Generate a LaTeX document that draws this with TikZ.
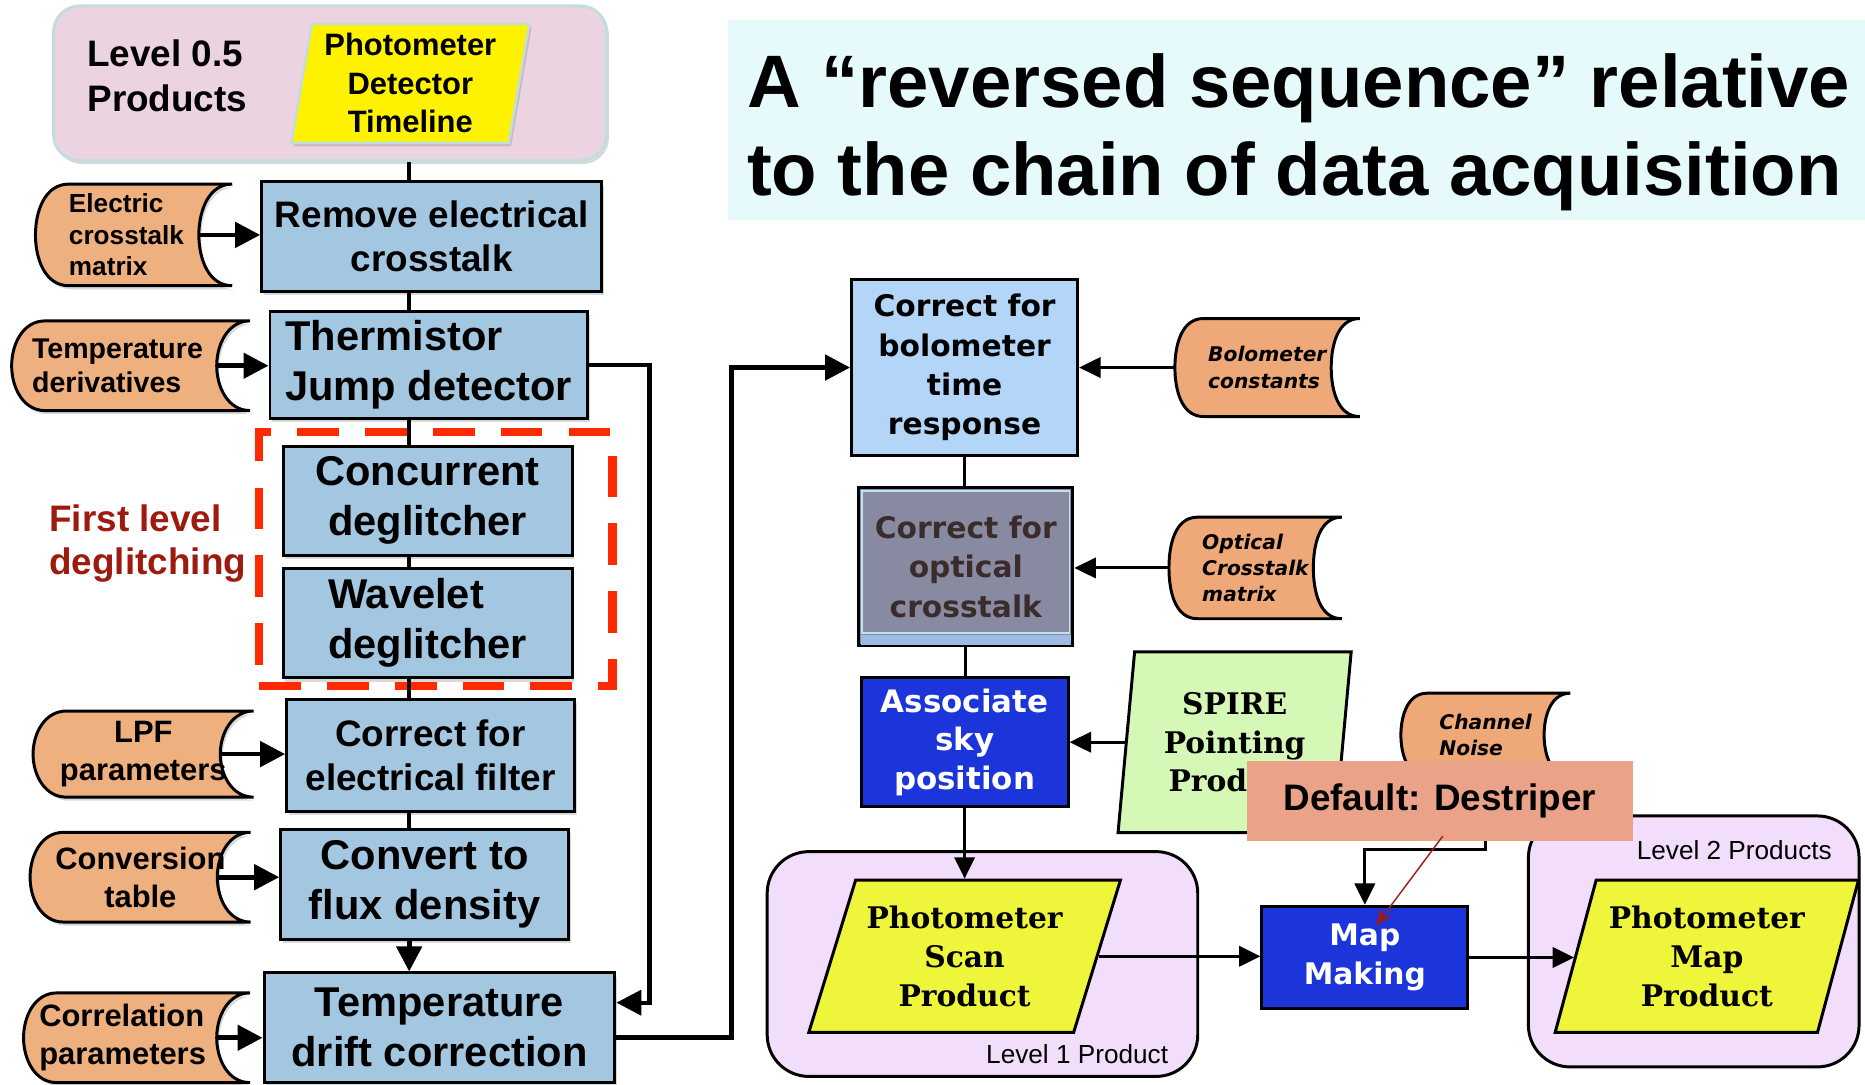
\documentclass[tikz,border=0pt]{standalone}
\usepackage{fontspec}
\setmainfont{Liberation Sans}
\newfontfamily\dvsans{DejaVu Sans}
\newfontfamily\dvserif{DejaVu Serif}
\usetikzlibrary{arrows.meta, positioning, calc, shapes.geometric, shadows, backgrounds}

\newcommand\fsz[2]{\fontsize{#1}{#2}\selectfont}

\definecolor{pinkLvl}{HTML}{EBD3E2}
\definecolor{pinkEdge}{HTML}{C3DCDF}
\definecolor{procBlue}{HTML}{A4C7E1}
\definecolor{storeOrange}{HTML}{EFB07F}
\definecolor{storeSalmon}{HTML}{EFA877}
\definecolor{boloBlue}{HTML}{B3D5F7}
\definecolor{optGray}{HTML}{878AA0}
\definecolor{optText}{HTML}{3B2C2C}
\definecolor{optEdge}{HTML}{BFE3EE}
\definecolor{stripBlue}{HTML}{9DBBE3}
\definecolor{deepBlue}{HTML}{1B35DA}
\definecolor{pointGreen}{HTML}{D6F8B6}
\definecolor{prodYellow}{HTML}{EEF53B}
\definecolor{groupLilac}{HTML}{F2DDFA}
\definecolor{noteSalmon}{HTML}{EAA388}
\definecolor{titleCyan}{HTML}{E6FAFC}
\definecolor{dashRed}{HTML}{FF2A00}
\definecolor{deglitchRed}{HTML}{9E1A0E}
\definecolor{pointerRed}{HTML}{9B1C1C}

\begin{document}
\begin{tikzpicture}[
x=1pt, y=-1pt,
softshadow/.style={drop shadow={shadow xshift=2pt, shadow yshift=-3pt, opacity=.3}},
leftbox/.style={
rectangle, draw=black, line width=2.5pt,
fill=procBlue, inner sep=4pt, align=center,
font=\bfseries\fsz{31}{37}, softshadow
},
bigtext/.style={font=\bfseries\fsz{35}{42}},
storenode/.style={
rectangle, inner sep=0pt, align=left,
font=\bfseries\fsz{22}{26.5}
},
storeshape/.style={fill=storeOrange, draw=black, line width=2.5pt},
rightbox/.style={
rectangle, draw=black, line width=2.5pt,
inner sep=3pt, align=center,
font=\dvsans\bfseries\fsz{25}{33}
},
product/.style={
trapezium, trapezium stretches body,
draw=black, line width=2.5pt, fill=prodYellow,
inner sep=2pt, align=center,
font=\dvserif\bfseries\fsz{25}{32.5}
},
groupbox/.style={rectangle, rounded corners=35pt, draw=black, line width=2.5pt, fill=groupLilac},
grouplabel/.style={font=\fsz{22}{26}, inner sep=0pt},
arrowL/.style={-{Triangle[length=21pt, width=21pt]}, line width=4pt},
linkL/.style={line width=3.5pt},
arrowR/.style={-{Triangle[length=18pt, width=17pt]}, line width=2.5pt},
linkR/.style={line width=2.5pt}
]

\useasboundingbox (0,0) rectangle (1568,912);

\node[rectangle, rounded corners=22pt, draw=pinkEdge, line width=2.5pt, fill=pinkLvl,
minimum width=465pt, minimum height=130pt, softshadow] (lvlHalf) at (277.5,70) {};
\node[anchor=west, align=left, font=\bfseries\fsz{31}{38}] (lvlHalfText) at (70,64) {Level 0.5\\Products};
\node[trapezium, trapezium stretches body, trapezium left angle=78.7, trapezium right angle=101.3,
minimum width=200pt, minimum height=100pt, fill=yellow, draw=pinkEdge, line width=2pt,
align=center, inner sep=1pt, font=\bfseries\fsz{26}{32.5}, softshadow] (detTimeline) at (345,70)
{Photometer\\Detector\\Timeline};

\coordinate (spine) at (344,0);

\node[leftbox, minimum width=286pt, minimum height=92pt] (removeXtalk) at (363,199)
{Remove electrical\\crosstalk};
\node[leftbox, bigtext, align=left, minimum width=267pt, minimum height=90pt] (jumpDetect) at (360.5,307)
{Thermistor\\Jump detector};
\node[leftbox, bigtext, minimum width=243pt, minimum height=92pt] (concDeglitch) at (359.5,421)
{Concurrent\\deglitcher};
\node[leftbox, bigtext, align=left, minimum width=243pt, minimum height=92pt] (waveDeglitch) at (359.5,524)
{Wavelet\\deglitcher};
\node[leftbox, minimum width=242pt, minimum height=94pt] (elecFilter) at (362,635)
{Correct for\\electrical filter};
\node[leftbox, bigtext, minimum width=242pt, minimum height=93pt] (fluxConvert) at (357,743.5)
{Convert to\\flux density};
\node[leftbox, bigtext, minimum width=295pt, minimum height=92pt] (tempDrift) at (369.5,864)
{Temperature\\drift correction};

\node[storenode, text width=109pt, minimum width=165pt, minimum height=85pt] (xtalkMatrix) at (112.5,197.5)
{Electric\\crosstalk\\matrix};
\node[storenode, text width=166pt, font=\bfseries\fsz{24}{29}, minimum width=200pt, minimum height=75pt] (tempDeriv) at (110,307.5)
{Temperature\\derivatives};
\node[storenode, font=\bfseries\fsz{26}{32}, align=center, minimum width=185pt, minimum height=72pt] (lpfParams) at (120.5,634)
{LPF\\parameters};
\node[storenode, font=\bfseries\fsz{26}{32}, align=center, minimum width=185pt, minimum height=75pt] (convTable) at (118,737.5)
{Conversion\\table};
\node[storenode, text width=164pt, font=\bfseries\fsz{26}{32}, minimum width=190pt, minimum height=75pt] (corrParams) at (115,872.5)
{Correlation\\parameters};

\node[draw=dashRed, line width=7pt, dash pattern=on 35pt off 22pt,
minimum width=297pt, minimum height=214pt] (deglitchFrame) at (366.5,470) {};
\node[anchor=west, align=left, text=deglitchRed, font=\bfseries\fsz{31}{36}] (deglitchLabel) at (38,457)
{First level\\deglitching};

\node[fill=titleCyan, minimum width=956pt, minimum height=168pt, inner sep=0pt] (titleBack) at (1090,101) {};
\node[anchor=west, inner sep=0pt, align=left, font=\bfseries\fsz{62.5}{74}] (title) at (628,111)
{A “reversed sequence” relative\\to the chain of data acquisition};

\node[rightbox, fill=boloBlue, minimum width=190pt, minimum height=148pt] (boloResp) at (811,309)
{Correct for\\bolometer\\time\\response};
\node[rightbox, fill=optGray, text=optText, minimum width=180pt, minimum height=133pt] (optXtalk) at (812,476.5)
{Correct for\\optical\\crosstalk};
\draw[optEdge, line width=1.2pt] ([shift={(4,4)}]optXtalk.north west) rectangle ([shift={(-4,-12)}]optXtalk.south east);
\fill[stripBlue] ([shift={(3,-10)}]optXtalk.south west) rectangle ([shift={(-3,-2)}]optXtalk.south east);
\node[rightbox, fill=deepBlue, text=white, font=\dvsans\bfseries\fsz{26}{32.5},
minimum width=174pt, minimum height=108pt] (skyPos) at (811,624)
{Associate\\sky\\position};

\node[storenode, font=\dvsans\bfseries\itshape\fsz{17}{22}, minimum width=155pt, minimum height=82pt] (boloConst) at (1065.5,309)
{Bolometer\\constants};
\node[storenode, font=\dvsans\bfseries\itshape\fsz{17}{21.5}, minimum width=145pt, minimum height=85pt] (optMatrix) at (1055.5,477.5)
{Optical\\Crosstalk\\matrix};
\node[storenode, font=\dvsans\bfseries\itshape\fsz{17}{22}, minimum width=142pt, minimum height=70pt] (chanNoise) at (1249,618)
{Channel\\Noise};

\node[product, fill=pointGreen, trapezium left angle=81, trapezium right angle=99,
minimum width=196pt, minimum height=152pt] (pointProd) at (1038,624)
{SPIRE\\Pointing\\Prod\phantom{uct}};

\node[groupbox, minimum width=362pt, minimum height=189pt] (levelOne) at (826,810.5) {};
\node[groupbox, minimum width=278pt, minimum height=211pt] (levelTwo) at (1424,791.5) {};
\node[grouplabel, anchor=south east] (levelOneText) at ([shift={(-26,-12)}]levelOne.south east) {Level 1 Product};
\node[grouplabel, anchor=north east] (levelTwoText) at ([shift={(-24,22)}]levelTwo.north east) {Level 2 Products};

\node[product, trapezium left angle=66, trapezium right angle=114,
minimum width=262pt, minimum height=128pt] (scanProd) at (811,804)
{Photometer\\Scan\\Product};
\node[product, trapezium left angle=68.7, trapezium right angle=111.3,
minimum width=255pt, minimum height=128pt] (mapProd) at (1435,804)
{Photometer\\Map\\Product};
\node[rightbox, fill=deepBlue, text=white, minimum width=173pt, minimum height=86pt] (mapMaking) at (1147.5,805)
{Map\\Making};

\begin{pgfonlayer}{background}
\foreach \n/\cv in {xtalkMatrix/28, tempDeriv/28, lpfParams/28, convTable/28, corrParams/28}
\filldraw[storeshape, softshadow] ([xshift=\cv pt]\n.north west) to[out=180,in=90] (\n.west)
to[out=-90,in=180] ([xshift=\cv pt]\n.south west) -- (\n.south east)
to[out=180,in=-90] ([xshift=-\cv pt]\n.east) to[out=90,in=180] (\n.north east) -- cycle;
\foreach \n/\cv in {boloConst/24, optMatrix/24, chanNoise/22}
\filldraw[storeshape, fill=storeSalmon] ([xshift=\cv pt]\n.north west) to[out=180,in=90] (\n.west)
to[out=-90,in=180] ([xshift=\cv pt]\n.south west) -- (\n.south east)
to[out=180,in=-90] ([xshift=-\cv pt]\n.east) to[out=90,in=180] (\n.north east) -- cycle;
\end{pgfonlayer}

\draw[linkL] (spine |- lvlHalf.south) -- (spine |- removeXtalk.north);
\draw[linkL] (spine |- removeXtalk.south) -- (spine |- jumpDetect.north);
\draw[linkL] (spine |- jumpDetect.south) -- (spine |- concDeglitch.north);
\draw[linkL] (spine |- concDeglitch.south) -- (spine |- waveDeglitch.north);
\draw[linkL] (spine |- waveDeglitch.south) -- (spine |- elecFilter.north);
\draw[linkL] (spine |- elecFilter.south) -- (spine |- fluxConvert.north);
\draw[arrowL] (spine |- fluxConvert.south) -- (spine |- tempDrift.north);

\draw[arrowL] ([xshift=-28pt]xtalkMatrix.east) -- (xtalkMatrix.east -| removeXtalk.west);
\draw[arrowL] ([xshift=-28pt]tempDeriv.east) -- (tempDeriv.east -| jumpDetect.west);
\draw[arrowL] ([xshift=-28pt]lpfParams.east) -- (lpfParams.east -| elecFilter.west);
\draw[arrowL] ([xshift=-28pt]convTable.east) -- (convTable.east -| fluxConvert.west);
\draw[arrowL] ([xshift=-28pt]corrParams.east) -- (corrParams.east -| tempDrift.west);

\coordinate (jumpBus) at (546,843);
\draw[arrowL, line width=3.5pt] (jumpDetect.east) -| (jumpBus) -- (jumpBus -| tempDrift.east);
\coordinate (driftBus) at (615,872);
\draw[arrowL] (driftBus -| tempDrift.east) -- (driftBus) |- (boloResp.west);

\draw[arrowR] (boloConst.west) -- (boloConst.west -| boloResp.east);
\draw[linkR] (boloResp.south) -- (boloResp.south |- optXtalk.north);
\draw[arrowR] (optMatrix.west) -- (optMatrix.west -| optXtalk.east);
\draw[linkR] (optXtalk.south) -- (optXtalk.south |- skyPos.north);
\draw[arrowR] (pointProd.west) -- (pointProd.west -| skyPos.east);
\draw[arrowR] (skyPos.south) -- (skyPos.south |- scanProd.north);
\draw[arrowR] (scanProd.east) -- (scanProd.east -| mapMaking.west);
\draw[arrowR] (mapMaking.east) -- (mapMaking.east -| mapProd.west);
\draw[arrowR] (chanNoise.south) -- ++(0,61) -| (mapMaking.north);

\node[fill=noteSalmon, minimum width=325pt, minimum height=67pt, font=\bfseries\fsz{31}{37}] (destriper) at (1210.5,673.5)
{Default: Destriper};
\draw[pointerRed, line width=1.2pt, -{Stealth[length=14pt, width=12pt]}]
([shift={(2.5,29.5)}]destriper.center) -- ([shift={(9.5,-27)}]mapMaking.center);

\end{tikzpicture}
\end{document}
